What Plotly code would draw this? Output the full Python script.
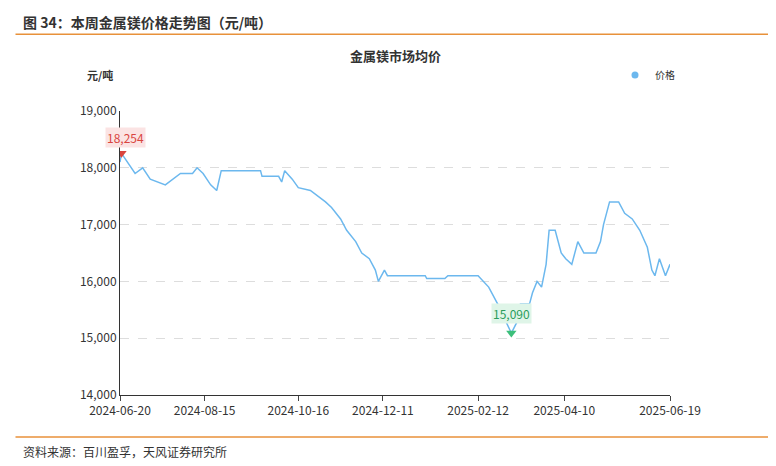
import plotly.graph_objects as go

dates = ["2024-06-20", "2024-06-21", "2024-06-30", "2024-07-05", "2024-07-10", "2024-07-20",
         "2024-07-30", "2024-08-07", "2024-08-10", "2024-08-14", "2024-08-19", "2024-08-23",
         "2024-08-26", "2024-09-21", "2024-09-22", "2024-10-03", "2024-10-05", "2024-10-07",
         "2024-10-12", "2024-10-16", "2024-10-24", "2024-10-29", "2024-11-03", "2024-11-07",
         "2024-11-13", "2024-11-17", "2024-11-23", "2024-11-27", "2024-12-02", "2024-12-06",
         "2024-12-08", "2024-12-12", "2024-12-14", "2025-01-08", "2025-01-09", "2025-01-21",
         "2025-01-23", "2025-02-12", "2025-02-19", "2025-02-25", "2025-03-06", "2025-03-10",
         "2025-03-12", "2025-03-18", "2025-03-20", "2025-03-23", "2025-03-26", "2025-03-29",
         "2025-03-31", "2025-04-04", "2025-04-08", "2025-04-11", "2025-04-15", "2025-04-19",
         "2025-04-23", "2025-05-01", "2025-05-04", "2025-05-06", "2025-05-10", "2025-05-16",
         "2025-05-20", "2025-05-25", "2025-05-30", "2025-06-04", "2025-06-07", "2025-06-09",
         "2025-06-12", "2025-06-16", "2025-06-19"]
prices = [18100, 18254, 17900, 18000, 17800, 17700,
          17900, 17900, 18000, 17900, 17700, 17600,
          17950, 17950, 17850, 17850, 17750, 17950,
          17800, 17650, 17600, 17500, 17400, 17300,
          17100, 16900, 16700, 16500, 16400, 16200,
          16000, 16200, 16100, 16100, 16050, 16050,
          16100, 16100, 15900, 15600, 15090, 15300,
          15600, 15600, 15800, 16000, 15900, 16300,
          16900, 16900, 16500, 16400, 16300, 16700,
          16500, 16500, 16700, 17000, 17400, 17400,
          17200, 17100, 16900, 16600, 16200, 16100,
          16400, 16100, 16300]
tick_dates = ["2024-06-20", "2024-08-15", "2024-10-16", "2024-12-11",
              "2025-02-12", "2025-04-10", "2025-06-19"]

FONT = "Noto Sans CJK SC"
ORANGE = "#e8913a"
BLUE = "#6cb8ee"

imax = prices.index(max(prices))
imin = prices.index(min(prices))

fig = go.Figure()
fig.add_trace(go.Scatter(x=dates, y=prices, mode="lines", showlegend=False,
                         line=dict(color=BLUE, width=1.5)))
fig.add_trace(go.Scatter(x=[None], y=[None], mode="markers", name="价格",
                         marker=dict(color=BLUE, size=7)))
fig.add_trace(go.Scatter(x=[dates[imax]], y=[prices[imax]], mode="markers",
                         marker=dict(symbol="triangle-down", size=9, color="#d9453f"),
                         showlegend=False))
fig.add_trace(go.Scatter(x=[dates[imin]], y=[prices[imin]], mode="markers",
                         marker=dict(symbol="triangle-down", size=9, color="#3cbf7a"),
                         showlegend=False))
fig.add_annotation(x=dates[imax], y=prices[imax], text=f"{prices[imax]:,}", showarrow=False,
                   yshift=16, xshift=4, bgcolor="#fbe3e3", font=dict(color="#d9453f", size=12))
fig.add_annotation(x=dates[imin], y=prices[imin], text=f"{prices[imin]:,}", showarrow=False,
                   yshift=20, bgcolor="#dff5e8", font=dict(color="#2a9d5c", size=12))

fig.add_annotation(xref="paper", yref="paper", x=-0.18, y=1.315, xanchor="left", yanchor="middle",
                   text="<b>图 34：本周金属镁价格走势图（元/吨）</b>", showarrow=False,
                   font=dict(size=14, color="#333"))
fig.add_annotation(xref="paper", yref="paper", x=0.5, y=1.197, yanchor="middle",
                   text="<b>金属镁市场均价</b>", showarrow=False, font=dict(size=13, color="#333"))
fig.add_annotation(xref="paper", yref="paper", x=-0.01, y=1.127, xanchor="right", yanchor="middle",
                   text="<b>元/吨</b>", showarrow=False, font=dict(size=11, color="#333"))
fig.add_annotation(xref="paper", yref="paper", x=-0.18, y=-0.2, xanchor="left", yanchor="middle",
                   text="资料来源：百川盈孚，天风证券研究所", showarrow=False,
                   font=dict(size=12, color="#333"))
for yp in (1.27, -0.148):
    fig.add_shape(type="line", xref="paper", yref="paper", x0=-0.19, x1=1.18, y0=yp, y1=yp,
                  line=dict(color=ORANGE, width=1.5))

fig.update_layout(
    width=776, height=466, plot_bgcolor="white", paper_bgcolor="white",
    margin=dict(l=112, r=114, t=103, b=79),
    font=dict(family=FONT, size=12, color="#333"),
    legend=dict(x=0.9, y=1.127, xanchor="left", yanchor="middle", font=dict(size=10),
                itemwidth=30),
    xaxis=dict(range=[dates[0], dates[-1]], tickvals=tick_dates, ticktext=tick_dates,
               showgrid=False, showline=True, linecolor="#333", ticks="outside",
               tickfont=dict(size=12, color="#333")),
    yaxis=dict(range=[14000, 19000], dtick=1000, tickformat=",", showgrid=True,
               gridcolor="#ddd", griddash="dash", showline=True, linecolor="#333",
               zeroline=False, tickfont=dict(size=12, color="#333")),
)
fig.write_html("out.html")
